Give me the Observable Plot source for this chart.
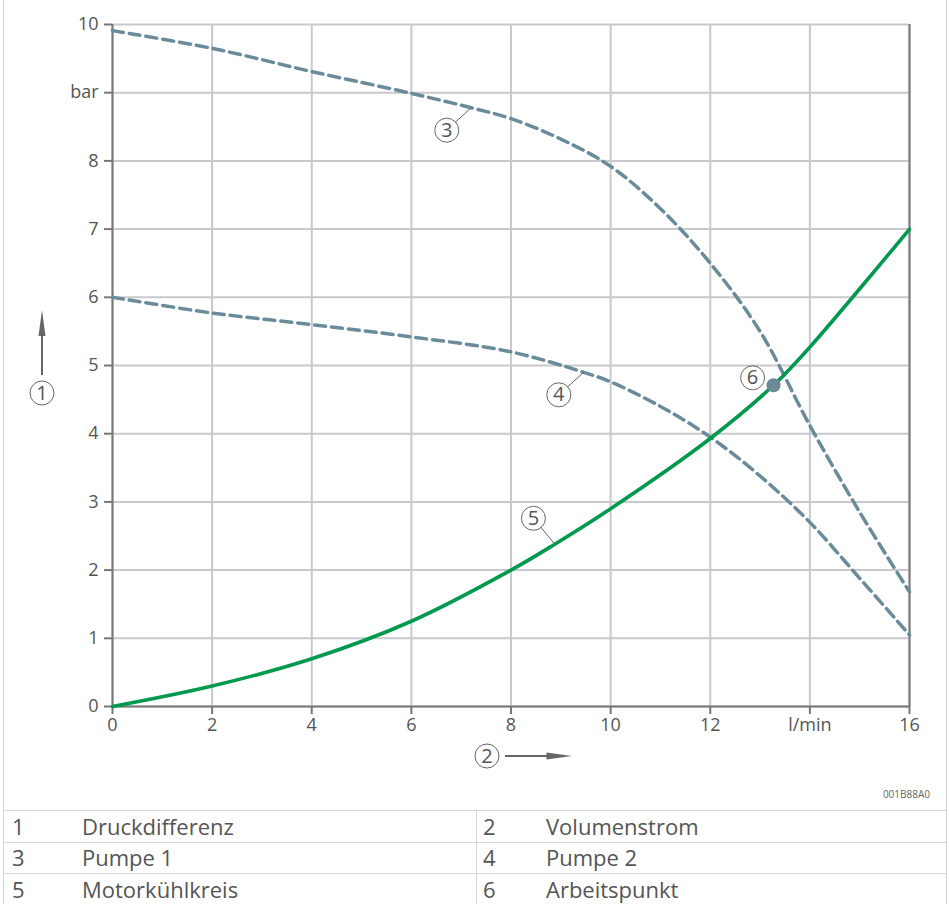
<!DOCTYPE html>
<html>
<head>
<meta charset="utf-8">
<script src="https://cdn.jsdelivr.net/npm/d3@7"></script>
<script src="https://cdn.jsdelivr.net/npm/@observablehq/plot@0.6"></script>
<style>
  body { margin: 0; background: #fff; }
  #wrap { position: relative; width: 949px; height: 904px; overflow: hidden; font-family: "Open Sans", sans-serif; color: #505050; }
  #chart svg { display: block; }
  .edge { position: absolute; top: 0; bottom: 0; width: 1px; background: #d4d4d4; }
  #code { position: absolute; top: 787px; right: 19px; font-size: 10px; color: #666; }
  .rowline { position: absolute; left: 3px; width: 943px; height: 1px; background: #d6d6d6; }
  .divider { position: absolute; left: 476px; width: 1px; top: 810px; bottom: 0; background: #d6d6d6; }
  .cell { position: absolute; height: 31px; line-height: 31px; font-size: 22px; color: #555; white-space: nowrap; }
</style>
</head>
<body>
<div id="wrap">
  <div id="chart"></div>
  <div class="edge" style="left:3px"></div>
  <div class="edge" style="left:946px"></div>
  <div id="code"></div>
  <div id="legend"></div>
</div>
<script>
// Flow rate (l/min) and pressure difference (bar) for each characteristic curve
const pump1Flow = [0, 2, 4, 6, 7.2, 8, 9, 10, 11, 12, 13, 14, 15, 16];
const pump1Pressure = [9.91, 9.65, 9.31, 8.99, 8.78, 8.62, 8.32, 7.92, 7.3, 6.5, 5.5, 4.12, 2.85, 1.68];

const pump2Flow = [0, 2, 4, 6, 8, 9.46, 10, 11, 12, 13, 14, 15, 16];
const pump2Pressure = [6.0, 5.77, 5.6, 5.42, 5.2, 4.9, 4.76, 4.4, 3.95, 3.38, 2.7, 1.88, 1.05];

const circuitFlow = [0, 2, 4, 6, 8, 8.88, 10, 12, 13.27, 14, 16];
const circuitPressure = [0, 0.3, 0.7, 1.25, 2.0, 2.38, 2.9, 3.93, 4.71, 5.27, 7.0];

// Operating point (item 6)
const operatingFlow = [13.27];
const operatingPressure = [4.71];

// Numbered callouts: label centre and the curve point the leader touches
const calloutNumbers = ["3", "4", "5", "6"];
const calloutLabelFlow = [6.71, 8.96, 8.45, 12.85];
const calloutLabelPressure = [8.45, 4.57, 2.76, 4.82];
const calloutTargetFlow = [7.2, 9.46, 8.88, null];
const calloutTargetPressure = [8.78, 4.9, 2.38, null];

// Axis ticks and their labels (units replace one numeric tick)
const flowTicks = [0, 2, 4, 6, 8, 10, 12, 14, 16];
const flowTickLabels = ["0", "2", "4", "6", "8", "10", "12", "l/min", "16"];
const pressureTicks = [0, 1, 2, 3, 4, 5, 6, 7, 8, 9, 10];
const pressureTickLabels = ["0", "1", "2", "3", "4", "5", "6", "7", "8", "bar", "10"];

// Legend entries
const legendNumbers = ["1", "2", "3", "4", "5", "6"];
const legendTexts = ["Druckdifferenz", "Volumenstrom", "Pumpe 1", "Pumpe 2", "Motorkühlkreis", "Arbeitspunkt"];
const figureCode = "001B88A0";

(function () {
  const toPoints = (xs, ys) => xs.map((x, i) => ({x, y: ys[i]}));
  const pump1 = toPoints(pump1Flow, pump1Pressure);
  const pump2 = toPoints(pump2Flow, pump2Pressure);
  const circuit = toPoints(circuitFlow, circuitPressure);
  const operating = toPoints(operatingFlow, operatingPressure);
  const callouts = calloutNumbers.map((n, i) => ({
    n, x: calloutLabelFlow[i], y: calloutLabelPressure[i],
    tx: calloutTargetFlow[i], ty: calloutTargetPressure[i]
  }));
  const leaders = callouts.filter(d => d.tx != null);

  const dashColor = "#6a8c9a";
  const greenColor = "#00994d";
  const axisColor = "#777777";
  const gridColor = "#c9c9cd";
  const inkColor = "#555555";

  const plot = Plot.plot({
    width: 949,
    height: 780,
    marginLeft: 112,
    marginRight: 40,
    marginTop: 24,
    marginBottom: 74,
    style: {fontFamily: "Open Sans, sans-serif", fontSize: "18px", color: inkColor, background: "#fff"},
    x: {domain: [0, 16]},
    y: {domain: [0, 10]},
    marks: [
      Plot.gridX(flowTicks, {stroke: gridColor, strokeOpacity: 1, strokeWidth: 2}),
      Plot.gridY(pressureTicks, {stroke: gridColor, strokeOpacity: 1, strokeWidth: 2}),
      Plot.axisX({
        ticks: flowTicks, tickFormat: d => flowTickLabels[flowTicks.indexOf(d)],
        tickSize: 8, tickPadding: 4, stroke: axisColor, strokeWidth: 2, fontSize: 18, label: null
      }),
      Plot.axisY({
        ticks: pressureTicks, tickFormat: d => pressureTickLabels[pressureTicks.indexOf(d)],
        tickSize: 8, tickPadding: 6, stroke: axisColor, strokeWidth: 2, fontSize: 18, label: null
      }),
      Plot.ruleX([0, 16], {stroke: axisColor, strokeWidth: 2}),
      Plot.ruleY([0], {stroke: axisColor, strokeWidth: 2}),
      Plot.line(pump1, {x: "x", y: "y", curve: "catmull-rom", stroke: dashColor, strokeWidth: 3.5, strokeDasharray: "11,6"}),
      Plot.line(pump2, {x: "x", y: "y", curve: "catmull-rom", stroke: dashColor, strokeWidth: 3.5, strokeDasharray: "11,6"}),
      Plot.line(circuit, {x: "x", y: "y", curve: "catmull-rom", stroke: greenColor, strokeWidth: 3.6}),
      Plot.dot(operating, {x: "x", y: "y", r: 7, fill: "#6e8896", stroke: "none"}),
      Plot.arrow(leaders, {x1: "x", y1: "y", x2: "tx", y2: "ty", insetStart: 12, headLength: 0, stroke: "#666", strokeWidth: 1}),
      Plot.dot(callouts, {x: "x", y: "y", r: 12, fill: "none", stroke: "#666", strokeWidth: 1}),
      Plot.text(callouts, {x: "x", y: "y", text: "n", fontSize: 20, fill: inkColor})
    ]
  });
  document.getElementById("chart").append(plot);

  // Axis designations: circled numbers with direction arrows beside the frame
  const sx = plot.scale("x"), sy = plot.scale("y");
  const frameLeft = sx.apply(0), frameRight = sx.apply(16);
  const frameTop = sy.apply(10), frameBottom = sy.apply(0);
  const midX = (frameLeft + frameRight) / 2, midY = (frameTop + frameBottom) / 2;
  const g = d3.select(plot).append("g").attr("fill", inkColor).attr("stroke", "none");

  function badge(cx, cy, label) {
    g.append("circle").attr("cx", cx).attr("cy", cy).attr("r", 12)
      .attr("fill", "none").attr("stroke", "#666").attr("stroke-width", 1);
    g.append("text").attr("x", cx).attr("y", cy).attr("dy", "0.35em")
      .attr("text-anchor", "middle").attr("font-size", 20).text(label);
  }
  // vertical arrow (pressure)
  const ax = frameLeft - 70;
  badge(ax, midY + 28, "1");
  g.append("line").attr("x1", ax).attr("x2", ax).attr("y1", midY + 10).attr("y2", midY - 32)
    .attr("stroke", "#666").attr("stroke-width", 2);
  g.append("path").attr("fill", "#666")
    .attr("d", `M${ax},${midY - 55}L${ax - 3.5},${midY - 29}L${ax + 3.5},${midY - 29}Z`);
  // horizontal arrow (flow)
  const ay = frameBottom + 50;
  badge(midX - 23.5, ay, "2");
  g.append("line").attr("x1", midX - 5.5).attr("x2", midX + 38).attr("y1", ay).attr("y2", ay)
    .attr("stroke", "#666").attr("stroke-width", 2);
  g.append("path").attr("fill", "#666")
    .attr("d", `M${midX + 61.5},${ay}L${midX + 36},${ay - 3.5}L${midX + 36},${ay + 3.5}Z`);

  // Figure code and two-column legend
  document.getElementById("code").textContent = figureCode;
  const legend = d3.select("#legend");
  const tableTop = 810, rowStep = 31.5;
  const columns = [{num: 12, text: 82}, {num: 483, text: 546}];
  legend.append("div").attr("class", "divider");
  for (let i = 0; i < legendNumbers.length; i++) {
    const row = Math.floor(i / 2), col = columns[i % 2];
    const y = tableTop + row * rowStep;
    if (i % 2 === 0) legend.append("div").attr("class", "rowline").style("top", `${y}px`);
    legend.append("div").attr("class", "cell").style("top", `${y + 0.5}px`).style("left", `${col.num}px`).text(legendNumbers[i]);
    legend.append("div").attr("class", "cell").style("top", `${y + 0.5}px`).style("left", `${col.text}px`).text(legendTexts[i]);
  }
})();
</script>
</body>
</html>
